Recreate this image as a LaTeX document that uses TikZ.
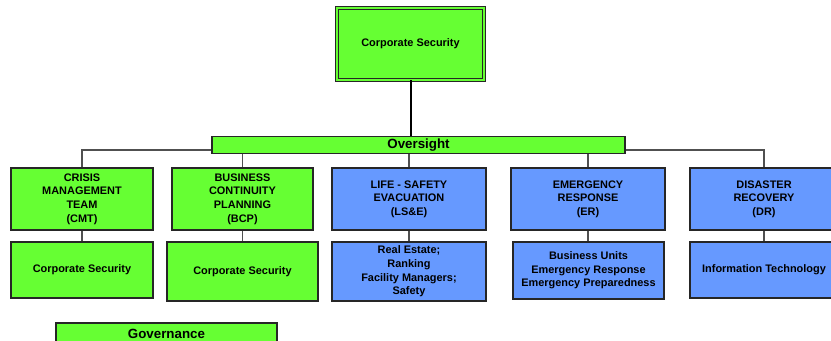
\documentclass[tikz,border=0pt]{standalone}
\usepackage{fontspec}
\setmainfont{Liberation Sans}
\usepackage{tikz}
\usetikzlibrary{calc}
\usetikzlibrary{positioning}
\definecolor{lgreen}{RGB}{102,255,51}
\definecolor{lblue}{RGB}{102,153,255}
\definecolor{lgray}{RGB}{80,80,80}

\begin{document}
\begin{tikzpicture}[x=0.75pt,y=-0.75pt,
    box/.style={draw=black!85,line width=0.8pt,align=center,inner sep=1pt,
      font=\fontsize{8.2}{10.2}\selectfont\bfseries},
    gbox/.style={box,fill=lgreen},
    bbox/.style={box,fill=lblue},
    bar/.style={gbox,font=\fontsize{10}{12}\selectfont\bfseries},
    link/.style={draw=lgray,line width=0.8pt}]
  \useasboundingbox (0,0) rectangle (831,341);
  \clip (0,0) rectangle (831,341);

  \node[gbox,double=lgreen,double distance=1.6pt,minimum width=110pt,minimum height=53.5pt]
    (top) at (410.5,44) {Corporate Security};
  \node[bar,minimum width=309.75pt,minimum height=12.75pt] (over) at (418.5,145) {Oversight};

  \node[gbox,minimum width=106.5pt,minimum height=46.5pt] (cmt) at (82,199)
    {CRISIS\\MANAGEMENT\\TEAM\\(CMT)};
  \node[gbox,minimum width=105.75pt,minimum height=46.5pt] (bcp) at (242.5,199)
    {BUSINESS\\CONTINUITY\\PLANNING\\(BCP)};
  \node[bbox,minimum width=115.5pt,minimum height=46.5pt] (lse) at (409,199)
    {LIFE - SAFETY\\EVACUATION\\(LS\&E)};
  \node[bbox,minimum width=115.5pt,minimum height=46.5pt] (er) at (588,199)
    {EMERGENCY\\RESPONSE\\(ER)};
  \node[bbox,minimum width=111pt,minimum height=46.5pt] (dr) at (764,199)
    {DISASTER\\RECOVERY\\(DR)};

  \node[gbox,minimum width=106.5pt,minimum height=42pt] (cmtx) at (82,270)
    {Corporate Security};
  \node[gbox,minimum width=113.25pt,minimum height=44.25pt] (bcpx) at (242.5,271.5)
    {Corporate Security};
  \node[bbox,minimum width=115.5pt,minimum height=44.25pt] (lsex) at (409,271.5)
    {Real Estate;\\Ranking\\Facility Managers;\\Safety};
  \node[bbox,minimum width=113.25pt,minimum height=42.75pt] (erx) at (588.5,270.5)
    {Business Units\\Emergency Response\\Emergency Preparedness};
  \node[bbox,minimum width=111pt,minimum height=42pt] (drx) at (764,270)
    {Information Technology};

  \node[bar,minimum width=165.75pt,minimum height=16.5pt] (gov) at (166.5,334) {Governance};

  \draw[black,line width=1.5pt] (top.south) -- (top.south |- over.north);
  \draw[link] (cmt.north) |- ($(over.west)+(0,5)$);
  \draw[link] (dr.north) |- ($(over.east)+(0,5)$);
  \draw[link] (over.south -| bcp.north) -- (bcp.north);
  \draw[link] (over.south -| lse.north) -- (lse.north);
  \draw[link] (over.south -| er.north) -- (er.north);
  \draw[link] (cmt.south) -- (cmtx.north);
  \draw[link] (bcp.south) -- (bcpx.north);
  \draw[link] (lse.south) -- (lsex.north);
  \draw[link] (er.south) -- (er.south |- erx.north);
  \draw[link] (dr.south) -- (drx.north);
\end{tikzpicture}
\end{document}
